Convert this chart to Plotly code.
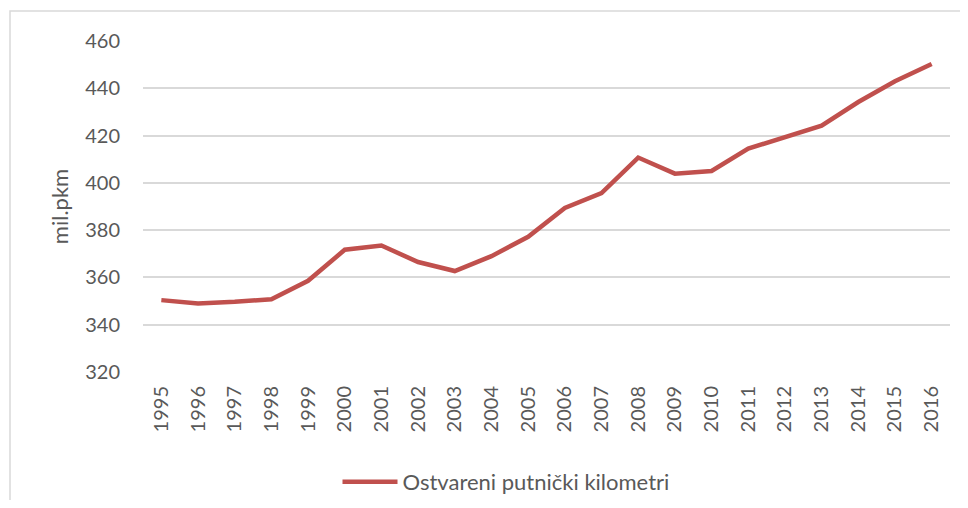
import plotly.graph_objects as go

years = [str(y) for y in range(1995, 2017)]
values = [350.4, 349.0, 349.7, 350.8, 358.6, 371.7, 373.5, 366.5, 362.7, 369.0,
          377.2, 389.4, 395.7, 410.7, 403.9, 405.0, 414.5, 419.4, 424.2, 434.2,
          443.0, 450.3]
series_name = "Ostvareni putnički kilometri"
y_ticks = [320, 340, 360, 380, 400, 420, 440, 460]

FONT = "Lato, 'Open Sans', sans-serif"
TXT = "#595959"

# page offset from default body margin (8px)
OFF = 8
W, H = 968 - 2 * OFF, 508 - 2 * OFF
L, T = 143 - OFF, 41 - OFF
R = W - (950 - OFF)
B = H - (372 - OFF)
pw, ph = W - L - R, H - T - B

def px_x(p):
    return (p - OFF - L) / pw

def px_y(p):
    return (H - B - (p - OFF)) / ph

fig = go.Figure()
fig.add_trace(go.Scatter(
    x=years, y=values, mode="lines", name=series_name,
    line=dict(color="#C0504D", width=4.5),
))

fig.update_layout(
    width=W, height=H,
    margin=dict(l=L, r=R, t=T, b=B, autoexpand=False),
    paper_bgcolor="white", plot_bgcolor="white",
    font=dict(family=FONT, color=TXT, size=20),
    showlegend=True,
    legend=dict(orientation="h", xref="container", yref="container",
                x=(506 - OFF) / W, xanchor="center",
                y=(H - (482 - OFF)) / H, yanchor="middle",
                font=dict(size=22, color=TXT), itemwidth=55),
    xaxis=dict(type="category", range=[-0.5, len(years) - 0.5],
               tickangle=-90, showgrid=False, zeroline=False,
               showline=False, ticks="", ticklabelstandoff=9,
               tickfont=dict(size=20, color=TXT)),
    yaxis=dict(range=[320, 460], tickvals=y_ticks, showgrid=True,
               gridcolor="#D9D9D9", gridwidth=1.5, zeroline=False,
               showline=False, ticks="", ticklabelstandoff=22,
               tickfont=dict(size=20, color=TXT),
               title=dict(text="mil.pkm", font=dict(size=22, color=TXT),
                          standoff=10)),
    shapes=[dict(type="rect", xref="paper", yref="paper",
                 x0=px_x(10), x1=px_x(1100), y0=px_y(700), y1=px_y(11),
                 line=dict(color="#D9D9D9", width=1.5), fillcolor="rgba(0,0,0,0)",
                 layer="below")],
)

fig.write_html("out.html")
